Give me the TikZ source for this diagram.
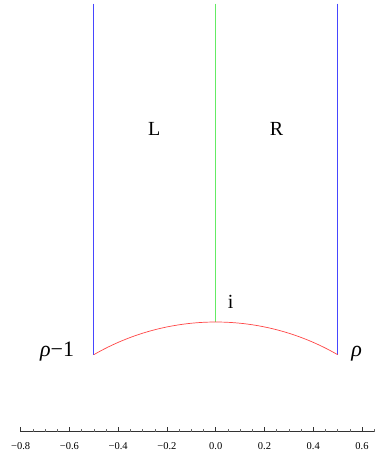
\documentclass[tikz,border=0pt]{standalone}
\usepackage{fontspec}
\setmainfont{Liberation Serif}
\definecolor{myblue}{RGB}{70,70,255}
\definecolor{mygreen}{RGB}{100,235,100}
\definecolor{myred}{RGB}{255,70,70}
\begin{document}
\begin{tikzpicture}[x=243.75pt,y=243.75pt]
\tikzset{
  bline/.style={color=myblue,line width=1pt},
  gline/.style={color=mygreen,line width=1pt},
  rline/.style={color=myred,line width=0.7pt},
  biglab/.style={font=\fontsize{20}{22}\selectfont,inner sep=0pt},
  rholab/.style={font=\fontsize{22}{24}\selectfont,inner sep=0pt,anchor=base},
  ticklab/.style={font=\fontsize{10.5}{12}\selectfont,inner sep=0pt,anchor=base},
  axisline/.style={color=black!80,line width=0.6pt},
  tickline/.style={color=black!60,line width=0.5pt}}
\useasboundingbox (-0.885,0.4503) rectangle (0.6905,2.321);
% boundary
\coordinate (lt) at (-0.5,2.306);
\coordinate (lb) at (-0.5,0.8660);
\coordinate (rt) at (0.5,2.306);
\coordinate (rb) at (0.5,0.8660);
\coordinate (mt) at (0,2.306);
\coordinate (mb) at (0,1);
\draw[bline] (lt) -- (lb);
\draw[bline] (rt) -- (rb);
\draw[gline] (mt) -- (mb);
\draw[rline] (lb) arc (120:60:1);
% labels
\node[biglab] (L) at (-0.252,1.79) {L};
\node[biglab] (R) at (0.25,1.79) {R};
\node[biglab] (i) at (0.0616,1.083) {i};
\node[rholab] (rho) at (0.578,0.858) {\textit{ρ}};
\node[rholab] (rhom) at (-0.651,0.858) {\textit{ρ}−1};
% axis
\coordinate (a0) at (-0.8,0.55);
\coordinate (a1) at (0.65,0.55);
\draw[axisline] (a0) -- (a1);
\foreach \k in {0,...,29} {
  \pgfmathsetmacro{\xx}{-0.8+0.05*\k}
  \draw[tickline] (\xx,0.55) -- ++(0,2.3pt);
}
\foreach \xx/\lab in {-0.8/−0.8,-0.6/−0.6,-0.4/−0.4,-0.2/−0.2,0/0.0,0.2/0.2,0.4/0.4,0.6/0.6} {
  \draw[axisline] (\xx,0.55) -- ++(0,4.5pt);
  \node[ticklab] at (\xx,0.479) {\lab};
}
\end{tikzpicture}
\end{document}
